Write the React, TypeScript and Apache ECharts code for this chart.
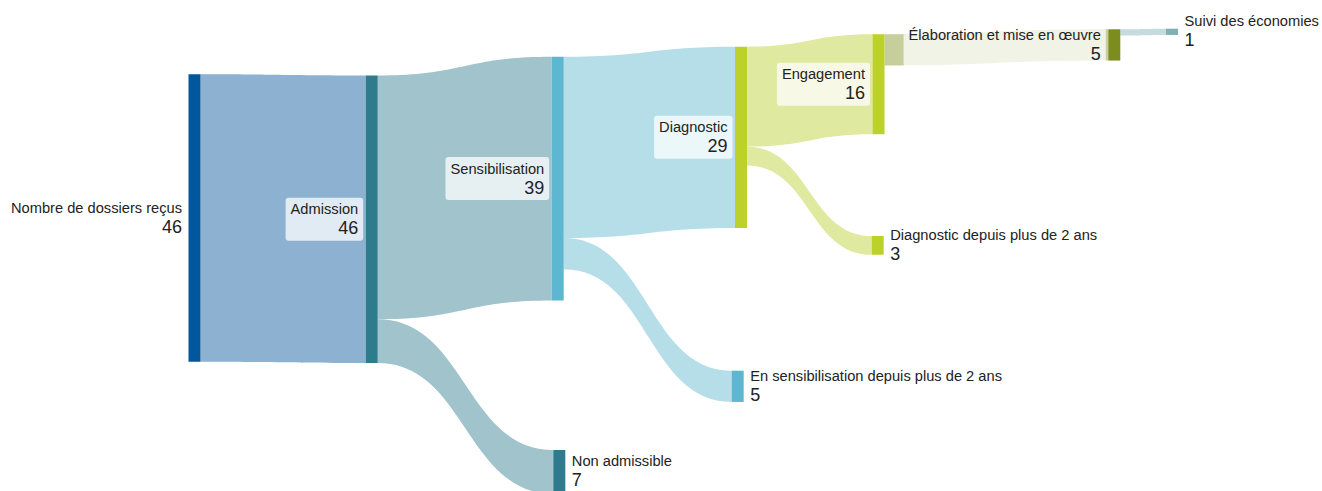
import React, { useEffect, useRef } from "react";
import * as echarts from "echarts";

// ---- data ----
const nodeNames = [
  "Nombre de dossiers reçus",
  "Admission",
  "Sensibilisation",
  "Non admissible",
  "Diagnostic",
  "En sensibilisation depuis plus de 2 ans",
  "Engagement",
  "Diagnostic depuis plus de 2 ans",
  "Élaboration et mise en œuvre",
  "Suivi des économies",
];
const linkSources = [
  "Nombre de dossiers reçus",
  "Admission",
  "Admission",
  "Sensibilisation",
  "Sensibilisation",
  "Diagnostic",
  "Diagnostic",
  "Engagement",
  "Élaboration et mise en œuvre",
];
const linkTargets = [
  "Admission",
  "Sensibilisation",
  "Non admissible",
  "Diagnostic",
  "En sensibilisation depuis plus de 2 ans",
  "Engagement",
  "Diagnostic depuis plus de 2 ans",
  "Élaboration et mise en œuvre",
  "Suivi des économies",
];
const linkValues = [46, 39, 7, 29, 5, 16, 3, 5, 1];

// ---- layout & style (not data) ----
const W = 1322;
const H = 287.5; // layout height => 6.25 px per dossier
const nodeLeft = [188.5, 365.7, 551.7, 553.3, 735, 731.7, 872.5, 871.7, 1108.3, 1166];
const nodeTop = [74.3, 75.5, 56.7, 450, 46.7, 370.7, 34.3, 236, 29.3, 28.7];
const nodeColors = [
  "#00579b",
  "#2d7b8c",
  "#5db7d0",
  "#2d7b8c",
  "#bcd12a",
  "#5db7d0",
  "#bcd12a",
  "#bcd12a",
  "#7d8c1e",
  "#7fb0b5",
];
const labelKind = ["leftPlain", "box", "box", "right", "box", "right", "box", "right", "box", "right"];
const linkColors = [
  "#8cb1d1",
  "#a0c3cc",
  "#a0c3cc",
  "#b6dee8",
  "#b6dee8",
  "#dfe99f",
  "#dfe99f",
  "#c6cf9b",
  "#c5dbde",
];

const FONT = "'Liberation Sans', Arial, sans-serif";
const TEXT = "#222222";

function nodeValue(name: string): number {
  let inSum = 0;
  let outSum = 0;
  linkSources.forEach((s, i) => {
    if (s === name) outSum += linkValues[i];
  });
  linkTargets.forEach((t, i) => {
    if (t === name) inSum += linkValues[i];
  });
  return Math.max(inSum, outSum);
}

const rich = {
  n: { fontSize: 14.67, lineHeight: 17, color: TEXT, fontFamily: FONT },
  v: { fontSize: 18, lineHeight: 21, color: TEXT, fontFamily: FONT },
};

function labelFor(i: number) {
  const kind = labelKind[i];
  const formatter = `{n|${nodeNames[i]}}\n{v|${nodeValue(nodeNames[i])}}`;
  if (kind === "box") {
    return {
      show: true,
      position: "left",
      distance: 2.5,
      align: "right",
      formatter,
      rich,
      backgroundColor: "rgba(255,255,255,0.74)",
      borderRadius: 3,
      padding: [3, 5, 2, 5],
    };
  }
  if (kind === "leftPlain") {
    return {
      show: true,
      position: "left",
      distance: 6.5,
      align: "right",
      formatter,
      rich,
    };
  }
  return {
    show: true,
    position: "right",
    distance: 6.5,
    align: "left",
    formatter,
    rich,
  };
}

export default function App() {
  const ref = useRef<HTMLDivElement>(null);
  useEffect(() => {
    if (!ref.current) return;
    const chart = echarts.init(ref.current, undefined, { renderer: "svg" });
    const data = nodeNames.map((name, i) => ({
      name,
      localX: nodeLeft[i] / W,
      localY: nodeTop[i] / H,
      itemStyle: { color: nodeColors[i], borderWidth: 0 },
      label: labelFor(i),
    }));
    const links = linkSources.map((s, i) => ({
      source: s,
      target: linkTargets[i],
      value: linkValues[i],
      lineStyle: { color: linkColors[i], opacity: 1 },
    }));
    chart.setOption({
      animation: false,
      tooltip: { show: false },
      series: [
        {
          type: "sankey",
          left: 0,
          top: 0,
          width: W,
          height: H,
          nodeWidth: 12,
          nodeGap: 0,
          layoutIterations: 0,
          nodeAlign: "left",
          draggable: false,
          emphasis: { disabled: true },
          itemStyle: { borderWidth: 0 },
          lineStyle: { curveness: 0.5, opacity: 1 },
          label: { fontFamily: FONT, color: TEXT },
          data,
          links,
        },
      ],
    });
    return () => chart.dispose();
  }, []);
  return (
    <div
      ref={ref}
      style={{ position: "absolute", left: 0, top: 0, width: 1322, height: 491 }}
    />
  );
}
